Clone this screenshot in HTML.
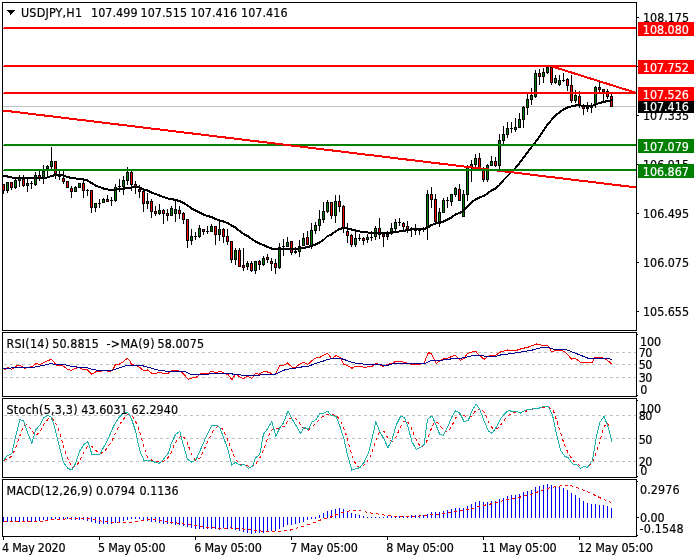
<!DOCTYPE html>
<html lang="en"><head><meta charset="utf-8"><title>USDJPY,H1</title>
<style>html,body{margin:0;padding:0;background:#fff;}svg{display:block;}text{font-family:"DejaVu Sans Condensed", "Liberation Sans", sans-serif;font-size:12.4px;fill:#000;stroke:#000;stroke-width:0.18px;}.w{fill:#fff;stroke:#fff;}</style></head><body>
<svg width="700" height="560" viewBox="0 0 700 560">
<rect x="0" y="0" width="700" height="560" fill="#fff"/>
<g shape-rendering="crispEdges">
<rect x="3" y="106" width="633" height="1" fill="#c0c0c0"/>
<g id="candles">
<rect x="3" y="184" width="1" height="10" fill="#000"/>
<rect x="2" y="184" width="3" height="7" fill="#000"/>
<rect x="3" y="185" width="1" height="5" fill="#ff0000"/>
<rect x="7" y="182" width="1" height="11" fill="#000"/>
<rect x="6" y="182" width="3" height="9" fill="#000"/>
<rect x="7" y="183" width="1" height="7" fill="#008000"/>
<rect x="11" y="182" width="1" height="8" fill="#000"/>
<rect x="10" y="182" width="3" height="6" fill="#000"/>
<rect x="11" y="183" width="1" height="4" fill="#ff0000"/>
<rect x="15" y="179" width="1" height="10" fill="#000"/>
<rect x="14" y="180" width="3" height="8" fill="#000"/>
<rect x="15" y="181" width="1" height="6" fill="#008000"/>
<rect x="19" y="175" width="1" height="12" fill="#000"/>
<rect x="18" y="178" width="3" height="3" fill="#000"/>
<rect x="19" y="179" width="1" height="1" fill="#008000"/>
<rect x="23" y="175" width="1" height="12" fill="#000"/>
<rect x="22" y="179" width="3" height="7" fill="#000"/>
<rect x="23" y="180" width="1" height="5" fill="#ff0000"/>
<rect x="27" y="179" width="1" height="13" fill="#000"/>
<rect x="26" y="183" width="3" height="3" fill="#000"/>
<rect x="27" y="184" width="1" height="1" fill="#008000"/>
<rect x="31" y="181" width="1" height="8" fill="#000"/>
<rect x="30" y="183" width="3" height="1" fill="#000"/>
<rect x="35" y="172" width="1" height="14" fill="#000"/>
<rect x="34" y="175" width="3" height="10" fill="#000"/>
<rect x="35" y="176" width="1" height="8" fill="#008000"/>
<rect x="39" y="171" width="1" height="10" fill="#000"/>
<rect x="38" y="175" width="3" height="3" fill="#000"/>
<rect x="39" y="176" width="1" height="1" fill="#ff0000"/>
<rect x="43" y="165" width="1" height="19" fill="#000"/>
<rect x="42" y="171" width="3" height="7" fill="#000"/>
<rect x="43" y="172" width="1" height="5" fill="#008000"/>
<rect x="47" y="165" width="1" height="11" fill="#000"/>
<rect x="46" y="166" width="3" height="3" fill="#000"/>
<rect x="47" y="167" width="1" height="1" fill="#008000"/>
<rect x="51" y="147" width="1" height="22" fill="#000"/>
<rect x="50" y="161" width="3" height="6" fill="#000"/>
<rect x="51" y="162" width="1" height="4" fill="#008000"/>
<rect x="55" y="161" width="1" height="18" fill="#000"/>
<rect x="54" y="161" width="3" height="13" fill="#000"/>
<rect x="55" y="162" width="1" height="11" fill="#ff0000"/>
<rect x="59" y="171" width="1" height="9" fill="#000"/>
<rect x="58" y="176" width="3" height="1" fill="#000"/>
<rect x="63" y="171" width="1" height="13" fill="#000"/>
<rect x="62" y="178" width="3" height="4" fill="#000"/>
<rect x="63" y="179" width="1" height="2" fill="#ff0000"/>
<rect x="67" y="181" width="1" height="7" fill="#000"/>
<rect x="66" y="181" width="3" height="7" fill="#000"/>
<rect x="67" y="182" width="1" height="5" fill="#ff0000"/>
<rect x="71" y="186" width="1" height="12" fill="#000"/>
<rect x="70" y="188" width="3" height="4" fill="#000"/>
<rect x="71" y="189" width="1" height="2" fill="#ff0000"/>
<rect x="75" y="186" width="1" height="6" fill="#000"/>
<rect x="74" y="187" width="3" height="5" fill="#000"/>
<rect x="75" y="188" width="1" height="3" fill="#008000"/>
<rect x="79" y="183" width="1" height="5" fill="#000"/>
<rect x="78" y="183" width="3" height="5" fill="#000"/>
<rect x="79" y="184" width="1" height="3" fill="#008000"/>
<rect x="83" y="181" width="1" height="17" fill="#000"/>
<rect x="82" y="183" width="3" height="8" fill="#000"/>
<rect x="83" y="184" width="1" height="6" fill="#ff0000"/>
<rect x="87" y="189" width="1" height="7" fill="#000"/>
<rect x="86" y="190" width="3" height="1" fill="#000"/>
<rect x="91" y="190" width="1" height="23" fill="#000"/>
<rect x="90" y="190" width="3" height="18" fill="#000"/>
<rect x="91" y="191" width="1" height="16" fill="#ff0000"/>
<rect x="95" y="203" width="1" height="9" fill="#000"/>
<rect x="94" y="203" width="3" height="5" fill="#000"/>
<rect x="95" y="204" width="1" height="3" fill="#008000"/>
<rect x="99" y="199" width="1" height="9" fill="#000"/>
<rect x="98" y="203" width="3" height="1" fill="#000"/>
<rect x="103" y="198" width="1" height="5" fill="#000"/>
<rect x="102" y="199" width="3" height="4" fill="#000"/>
<rect x="103" y="200" width="1" height="2" fill="#008000"/>
<rect x="107" y="195" width="1" height="7" fill="#000"/>
<rect x="106" y="199" width="3" height="3" fill="#000"/>
<rect x="107" y="200" width="1" height="1" fill="#ff0000"/>
<rect x="111" y="197" width="1" height="9" fill="#000"/>
<rect x="110" y="200" width="3" height="1" fill="#000"/>
<rect x="115" y="184" width="1" height="18" fill="#000"/>
<rect x="114" y="187" width="3" height="14" fill="#000"/>
<rect x="115" y="188" width="1" height="12" fill="#008000"/>
<rect x="119" y="179" width="1" height="13" fill="#000"/>
<rect x="118" y="186" width="3" height="1" fill="#000"/>
<rect x="123" y="176" width="1" height="19" fill="#000"/>
<rect x="122" y="180" width="3" height="7" fill="#000"/>
<rect x="123" y="181" width="1" height="5" fill="#008000"/>
<rect x="127" y="167" width="1" height="18" fill="#000"/>
<rect x="126" y="172" width="3" height="9" fill="#000"/>
<rect x="127" y="173" width="1" height="7" fill="#008000"/>
<rect x="131" y="171" width="1" height="20" fill="#000"/>
<rect x="130" y="172" width="3" height="13" fill="#000"/>
<rect x="131" y="173" width="1" height="11" fill="#ff0000"/>
<rect x="135" y="181" width="1" height="13" fill="#000"/>
<rect x="134" y="184" width="3" height="3" fill="#000"/>
<rect x="135" y="185" width="1" height="1" fill="#ff0000"/>
<rect x="139" y="185" width="1" height="13" fill="#000"/>
<rect x="138" y="189" width="3" height="3" fill="#000"/>
<rect x="139" y="190" width="1" height="1" fill="#ff0000"/>
<rect x="143" y="191" width="1" height="21" fill="#000"/>
<rect x="142" y="191" width="3" height="13" fill="#000"/>
<rect x="143" y="192" width="1" height="11" fill="#ff0000"/>
<rect x="147" y="193" width="1" height="16" fill="#000"/>
<rect x="146" y="201" width="3" height="3" fill="#000"/>
<rect x="147" y="202" width="1" height="1" fill="#008000"/>
<rect x="151" y="199" width="1" height="19" fill="#000"/>
<rect x="150" y="201" width="3" height="11" fill="#000"/>
<rect x="151" y="202" width="1" height="9" fill="#ff0000"/>
<rect x="155" y="206" width="1" height="10" fill="#000"/>
<rect x="154" y="211" width="3" height="3" fill="#000"/>
<rect x="155" y="212" width="1" height="1" fill="#ff0000"/>
<rect x="159" y="204" width="1" height="11" fill="#000"/>
<rect x="158" y="210" width="3" height="4" fill="#000"/>
<rect x="159" y="211" width="1" height="2" fill="#008000"/>
<rect x="163" y="209" width="1" height="15" fill="#000"/>
<rect x="162" y="210" width="3" height="4" fill="#000"/>
<rect x="163" y="211" width="1" height="2" fill="#ff0000"/>
<rect x="167" y="209" width="1" height="12" fill="#000"/>
<rect x="166" y="213" width="3" height="3" fill="#000"/>
<rect x="167" y="214" width="1" height="1" fill="#ff0000"/>
<rect x="171" y="206" width="1" height="10" fill="#000"/>
<rect x="170" y="208" width="3" height="8" fill="#000"/>
<rect x="171" y="209" width="1" height="6" fill="#008000"/>
<rect x="175" y="201" width="1" height="21" fill="#000"/>
<rect x="174" y="209" width="3" height="5" fill="#000"/>
<rect x="175" y="210" width="1" height="3" fill="#008000"/>
<rect x="179" y="206" width="1" height="13" fill="#000"/>
<rect x="178" y="210" width="3" height="4" fill="#000"/>
<rect x="179" y="211" width="1" height="2" fill="#ff0000"/>
<rect x="183" y="212" width="1" height="12" fill="#000"/>
<rect x="182" y="213" width="3" height="7" fill="#000"/>
<rect x="183" y="214" width="1" height="5" fill="#ff0000"/>
<rect x="187" y="219" width="1" height="29" fill="#000"/>
<rect x="186" y="219" width="3" height="22" fill="#000"/>
<rect x="187" y="220" width="1" height="20" fill="#ff0000"/>
<rect x="191" y="229" width="1" height="16" fill="#000"/>
<rect x="190" y="236" width="3" height="5" fill="#000"/>
<rect x="191" y="237" width="1" height="3" fill="#008000"/>
<rect x="195" y="232" width="1" height="8" fill="#000"/>
<rect x="194" y="236" width="3" height="1" fill="#000"/>
<rect x="199" y="225" width="1" height="13" fill="#000"/>
<rect x="198" y="228" width="3" height="9" fill="#000"/>
<rect x="199" y="229" width="1" height="7" fill="#008000"/>
<rect x="203" y="229" width="1" height="6" fill="#000"/>
<rect x="202" y="229" width="3" height="3" fill="#000"/>
<rect x="203" y="230" width="1" height="1" fill="#ff0000"/>
<rect x="207" y="226" width="1" height="8" fill="#000"/>
<rect x="206" y="231" width="3" height="1" fill="#000"/>
<rect x="211" y="224" width="1" height="8" fill="#000"/>
<rect x="210" y="226" width="3" height="6" fill="#000"/>
<rect x="211" y="227" width="1" height="4" fill="#008000"/>
<rect x="215" y="226" width="1" height="19" fill="#000"/>
<rect x="214" y="226" width="3" height="9" fill="#000"/>
<rect x="215" y="227" width="1" height="7" fill="#ff0000"/>
<rect x="219" y="221" width="1" height="20" fill="#000"/>
<rect x="218" y="229" width="3" height="6" fill="#000"/>
<rect x="219" y="230" width="1" height="4" fill="#008000"/>
<rect x="223" y="228" width="1" height="15" fill="#000"/>
<rect x="222" y="229" width="3" height="8" fill="#000"/>
<rect x="223" y="230" width="1" height="6" fill="#ff0000"/>
<rect x="227" y="229" width="1" height="16" fill="#000"/>
<rect x="226" y="236" width="3" height="6" fill="#000"/>
<rect x="227" y="237" width="1" height="4" fill="#ff0000"/>
<rect x="231" y="241" width="1" height="22" fill="#000"/>
<rect x="230" y="241" width="3" height="19" fill="#000"/>
<rect x="231" y="242" width="1" height="17" fill="#ff0000"/>
<rect x="235" y="248" width="1" height="17" fill="#000"/>
<rect x="234" y="250" width="3" height="10" fill="#000"/>
<rect x="235" y="251" width="1" height="8" fill="#008000"/>
<rect x="239" y="248" width="1" height="19" fill="#000"/>
<rect x="238" y="250" width="3" height="17" fill="#000"/>
<rect x="239" y="251" width="1" height="15" fill="#ff0000"/>
<rect x="243" y="248" width="1" height="23" fill="#000"/>
<rect x="242" y="265" width="3" height="3" fill="#000"/>
<rect x="243" y="266" width="1" height="1" fill="#ff0000"/>
<rect x="247" y="261" width="1" height="9" fill="#000"/>
<rect x="246" y="263" width="3" height="4" fill="#000"/>
<rect x="247" y="264" width="1" height="2" fill="#008000"/>
<rect x="251" y="261" width="1" height="11" fill="#000"/>
<rect x="250" y="263" width="3" height="8" fill="#000"/>
<rect x="251" y="264" width="1" height="6" fill="#ff0000"/>
<rect x="255" y="261" width="1" height="13" fill="#000"/>
<rect x="254" y="261" width="3" height="10" fill="#000"/>
<rect x="255" y="262" width="1" height="8" fill="#008000"/>
<rect x="259" y="260" width="1" height="10" fill="#000"/>
<rect x="258" y="261" width="3" height="4" fill="#000"/>
<rect x="259" y="262" width="1" height="2" fill="#ff0000"/>
<rect x="263" y="256" width="1" height="10" fill="#000"/>
<rect x="262" y="258" width="3" height="7" fill="#000"/>
<rect x="263" y="259" width="1" height="5" fill="#008000"/>
<rect x="267" y="254" width="1" height="9" fill="#000"/>
<rect x="266" y="257" width="3" height="3" fill="#000"/>
<rect x="267" y="258" width="1" height="1" fill="#ff0000"/>
<rect x="271" y="258" width="1" height="13" fill="#000"/>
<rect x="270" y="261" width="3" height="3" fill="#000"/>
<rect x="271" y="262" width="1" height="1" fill="#ff0000"/>
<rect x="275" y="259" width="1" height="15" fill="#000"/>
<rect x="274" y="263" width="3" height="5" fill="#000"/>
<rect x="275" y="264" width="1" height="3" fill="#ff0000"/>
<rect x="279" y="243" width="1" height="26" fill="#000"/>
<rect x="278" y="247" width="3" height="21" fill="#000"/>
<rect x="279" y="248" width="1" height="19" fill="#008000"/>
<rect x="283" y="239" width="1" height="17" fill="#000"/>
<rect x="282" y="246" width="3" height="1" fill="#000"/>
<rect x="287" y="237" width="1" height="10" fill="#000"/>
<rect x="286" y="242" width="3" height="5" fill="#000"/>
<rect x="287" y="243" width="1" height="3" fill="#008000"/>
<rect x="291" y="241" width="1" height="14" fill="#000"/>
<rect x="290" y="241" width="3" height="12" fill="#000"/>
<rect x="291" y="242" width="1" height="10" fill="#ff0000"/>
<rect x="295" y="247" width="1" height="7" fill="#000"/>
<rect x="294" y="251" width="3" height="2" fill="#000"/>
<rect x="299" y="240" width="1" height="17" fill="#000"/>
<rect x="298" y="246" width="3" height="6" fill="#000"/>
<rect x="299" y="247" width="1" height="4" fill="#008000"/>
<rect x="303" y="233" width="1" height="13" fill="#000"/>
<rect x="302" y="238" width="3" height="8" fill="#000"/>
<rect x="303" y="239" width="1" height="6" fill="#008000"/>
<rect x="307" y="231" width="1" height="14" fill="#000"/>
<rect x="306" y="237" width="3" height="8" fill="#000"/>
<rect x="307" y="238" width="1" height="6" fill="#ff0000"/>
<rect x="311" y="223" width="1" height="26" fill="#000"/>
<rect x="310" y="230" width="3" height="16" fill="#000"/>
<rect x="311" y="231" width="1" height="14" fill="#008000"/>
<rect x="315" y="222" width="1" height="12" fill="#000"/>
<rect x="314" y="225" width="3" height="6" fill="#000"/>
<rect x="315" y="226" width="1" height="4" fill="#008000"/>
<rect x="319" y="210" width="1" height="21" fill="#000"/>
<rect x="318" y="219" width="3" height="7" fill="#000"/>
<rect x="319" y="220" width="1" height="5" fill="#008000"/>
<rect x="323" y="202" width="1" height="21" fill="#000"/>
<rect x="322" y="211" width="3" height="9" fill="#000"/>
<rect x="323" y="212" width="1" height="7" fill="#008000"/>
<rect x="327" y="200" width="1" height="13" fill="#000"/>
<rect x="326" y="202" width="3" height="10" fill="#000"/>
<rect x="327" y="203" width="1" height="8" fill="#008000"/>
<rect x="331" y="202" width="1" height="17" fill="#000"/>
<rect x="330" y="202" width="3" height="14" fill="#000"/>
<rect x="331" y="203" width="1" height="12" fill="#ff0000"/>
<rect x="335" y="195" width="1" height="28" fill="#000"/>
<rect x="334" y="201" width="3" height="15" fill="#000"/>
<rect x="335" y="202" width="1" height="13" fill="#008000"/>
<rect x="339" y="195" width="1" height="17" fill="#000"/>
<rect x="338" y="201" width="3" height="6" fill="#000"/>
<rect x="339" y="202" width="1" height="4" fill="#ff0000"/>
<rect x="343" y="205" width="1" height="28" fill="#000"/>
<rect x="342" y="206" width="3" height="22" fill="#000"/>
<rect x="343" y="207" width="1" height="20" fill="#ff0000"/>
<rect x="347" y="223" width="1" height="20" fill="#000"/>
<rect x="346" y="231" width="3" height="5" fill="#000"/>
<rect x="347" y="232" width="1" height="3" fill="#ff0000"/>
<rect x="351" y="234" width="1" height="13" fill="#000"/>
<rect x="350" y="235" width="3" height="10" fill="#000"/>
<rect x="351" y="236" width="1" height="8" fill="#ff0000"/>
<rect x="355" y="232" width="1" height="15" fill="#000"/>
<rect x="354" y="238" width="3" height="7" fill="#000"/>
<rect x="355" y="239" width="1" height="5" fill="#008000"/>
<rect x="359" y="234" width="1" height="7" fill="#000"/>
<rect x="358" y="238" width="3" height="1" fill="#000"/>
<rect x="363" y="237" width="1" height="8" fill="#000"/>
<rect x="362" y="238" width="3" height="3" fill="#000"/>
<rect x="363" y="239" width="1" height="1" fill="#ff0000"/>
<rect x="367" y="234" width="1" height="9" fill="#000"/>
<rect x="366" y="237" width="3" height="3" fill="#000"/>
<rect x="367" y="238" width="1" height="1" fill="#008000"/>
<rect x="371" y="231" width="1" height="10" fill="#000"/>
<rect x="370" y="237" width="3" height="1" fill="#000"/>
<rect x="375" y="226" width="1" height="14" fill="#000"/>
<rect x="374" y="228" width="3" height="9" fill="#000"/>
<rect x="375" y="229" width="1" height="7" fill="#008000"/>
<rect x="379" y="218" width="1" height="21" fill="#000"/>
<rect x="378" y="228" width="3" height="7" fill="#000"/>
<rect x="379" y="229" width="1" height="5" fill="#ff0000"/>
<rect x="383" y="234" width="1" height="13" fill="#000"/>
<rect x="382" y="234" width="3" height="3" fill="#000"/>
<rect x="383" y="235" width="1" height="1" fill="#ff0000"/>
<rect x="387" y="231" width="1" height="9" fill="#000"/>
<rect x="386" y="234" width="3" height="3" fill="#000"/>
<rect x="387" y="235" width="1" height="1" fill="#008000"/>
<rect x="391" y="223" width="1" height="12" fill="#000"/>
<rect x="390" y="228" width="3" height="6" fill="#000"/>
<rect x="391" y="229" width="1" height="4" fill="#008000"/>
<rect x="395" y="219" width="1" height="13" fill="#000"/>
<rect x="394" y="222" width="3" height="7" fill="#000"/>
<rect x="395" y="223" width="1" height="5" fill="#008000"/>
<rect x="399" y="218" width="1" height="8" fill="#000"/>
<rect x="398" y="222" width="3" height="1" fill="#000"/>
<rect x="403" y="222" width="1" height="9" fill="#000"/>
<rect x="402" y="223" width="3" height="4" fill="#000"/>
<rect x="403" y="224" width="1" height="2" fill="#ff0000"/>
<rect x="407" y="221" width="1" height="12" fill="#000"/>
<rect x="406" y="226" width="3" height="3" fill="#000"/>
<rect x="407" y="227" width="1" height="1" fill="#ff0000"/>
<rect x="411" y="227" width="1" height="10" fill="#000"/>
<rect x="410" y="228" width="3" height="2" fill="#000"/>
<rect x="415" y="224" width="1" height="11" fill="#000"/>
<rect x="414" y="230" width="3" height="1" fill="#000"/>
<rect x="419" y="230" width="1" height="5" fill="#000"/>
<rect x="418" y="230" width="3" height="1" fill="#000"/>
<rect x="423" y="227" width="1" height="5" fill="#000"/>
<rect x="422" y="229" width="3" height="1" fill="#000"/>
<rect x="427" y="190" width="1" height="50" fill="#000"/>
<rect x="426" y="194" width="3" height="33" fill="#000"/>
<rect x="427" y="195" width="1" height="31" fill="#008000"/>
<rect x="431" y="187" width="1" height="21" fill="#000"/>
<rect x="430" y="194" width="3" height="6" fill="#000"/>
<rect x="431" y="195" width="1" height="4" fill="#ff0000"/>
<rect x="435" y="194" width="1" height="29" fill="#000"/>
<rect x="434" y="199" width="3" height="23" fill="#000"/>
<rect x="435" y="200" width="1" height="21" fill="#ff0000"/>
<rect x="439" y="208" width="1" height="19" fill="#000"/>
<rect x="438" y="212" width="3" height="10" fill="#000"/>
<rect x="439" y="213" width="1" height="8" fill="#008000"/>
<rect x="443" y="198" width="1" height="15" fill="#000"/>
<rect x="442" y="200" width="3" height="13" fill="#000"/>
<rect x="443" y="201" width="1" height="11" fill="#008000"/>
<rect x="447" y="197" width="1" height="11" fill="#000"/>
<rect x="446" y="200" width="3" height="1" fill="#000"/>
<rect x="451" y="194" width="1" height="12" fill="#000"/>
<rect x="450" y="194" width="3" height="8" fill="#000"/>
<rect x="451" y="195" width="1" height="6" fill="#008000"/>
<rect x="455" y="187" width="1" height="10" fill="#000"/>
<rect x="454" y="188" width="3" height="7" fill="#000"/>
<rect x="455" y="189" width="1" height="5" fill="#008000"/>
<rect x="459" y="184" width="1" height="17" fill="#000"/>
<rect x="458" y="189" width="3" height="12" fill="#000"/>
<rect x="459" y="190" width="1" height="10" fill="#ff0000"/>
<rect x="463" y="190" width="1" height="27" fill="#000"/>
<rect x="462" y="194" width="3" height="23" fill="#000"/>
<rect x="463" y="195" width="1" height="21" fill="#008000"/>
<rect x="467" y="165" width="1" height="36" fill="#000"/>
<rect x="466" y="166" width="3" height="29" fill="#000"/>
<rect x="467" y="167" width="1" height="27" fill="#008000"/>
<rect x="471" y="160" width="1" height="22" fill="#000"/>
<rect x="470" y="164" width="3" height="3" fill="#000"/>
<rect x="471" y="165" width="1" height="1" fill="#008000"/>
<rect x="475" y="154" width="1" height="13" fill="#000"/>
<rect x="474" y="158" width="3" height="7" fill="#000"/>
<rect x="475" y="159" width="1" height="5" fill="#008000"/>
<rect x="479" y="153" width="1" height="15" fill="#000"/>
<rect x="478" y="158" width="3" height="10" fill="#000"/>
<rect x="479" y="159" width="1" height="8" fill="#ff0000"/>
<rect x="483" y="167" width="1" height="15" fill="#000"/>
<rect x="482" y="168" width="3" height="12" fill="#000"/>
<rect x="483" y="169" width="1" height="10" fill="#ff0000"/>
<rect x="487" y="164" width="1" height="18" fill="#000"/>
<rect x="486" y="165" width="3" height="15" fill="#000"/>
<rect x="487" y="166" width="1" height="13" fill="#008000"/>
<rect x="491" y="156" width="1" height="10" fill="#000"/>
<rect x="490" y="161" width="3" height="5" fill="#000"/>
<rect x="491" y="162" width="1" height="3" fill="#008000"/>
<rect x="495" y="157" width="1" height="10" fill="#000"/>
<rect x="494" y="161" width="3" height="5" fill="#000"/>
<rect x="495" y="162" width="1" height="3" fill="#ff0000"/>
<rect x="499" y="134" width="1" height="35" fill="#000"/>
<rect x="498" y="140" width="3" height="26" fill="#000"/>
<rect x="499" y="141" width="1" height="24" fill="#008000"/>
<rect x="503" y="126" width="1" height="18" fill="#000"/>
<rect x="502" y="134" width="3" height="7" fill="#000"/>
<rect x="503" y="135" width="1" height="5" fill="#008000"/>
<rect x="507" y="122" width="1" height="16" fill="#000"/>
<rect x="506" y="128" width="3" height="7" fill="#000"/>
<rect x="507" y="129" width="1" height="5" fill="#008000"/>
<rect x="511" y="122" width="1" height="11" fill="#000"/>
<rect x="510" y="128" width="3" height="1" fill="#000"/>
<rect x="515" y="118" width="1" height="14" fill="#000"/>
<rect x="514" y="127" width="3" height="3" fill="#000"/>
<rect x="515" y="128" width="1" height="1" fill="#008000"/>
<rect x="519" y="113" width="1" height="15" fill="#000"/>
<rect x="518" y="119" width="3" height="9" fill="#000"/>
<rect x="519" y="120" width="1" height="7" fill="#008000"/>
<rect x="523" y="106" width="1" height="22" fill="#000"/>
<rect x="522" y="107" width="3" height="13" fill="#000"/>
<rect x="523" y="108" width="1" height="11" fill="#008000"/>
<rect x="527" y="94" width="1" height="21" fill="#000"/>
<rect x="526" y="99" width="3" height="9" fill="#000"/>
<rect x="527" y="100" width="1" height="7" fill="#008000"/>
<rect x="531" y="88" width="1" height="17" fill="#000"/>
<rect x="530" y="95" width="3" height="5" fill="#000"/>
<rect x="531" y="96" width="1" height="3" fill="#008000"/>
<rect x="535" y="70" width="1" height="28" fill="#000"/>
<rect x="534" y="73" width="3" height="24" fill="#000"/>
<rect x="535" y="74" width="1" height="22" fill="#008000"/>
<rect x="539" y="69" width="1" height="16" fill="#000"/>
<rect x="538" y="73" width="3" height="4" fill="#000"/>
<rect x="539" y="74" width="1" height="2" fill="#ff0000"/>
<rect x="543" y="68" width="1" height="15" fill="#000"/>
<rect x="542" y="72" width="3" height="5" fill="#000"/>
<rect x="543" y="73" width="1" height="3" fill="#008000"/>
<rect x="547" y="65" width="1" height="9" fill="#000"/>
<rect x="546" y="67" width="3" height="6" fill="#000"/>
<rect x="547" y="68" width="1" height="4" fill="#008000"/>
<rect x="551" y="66" width="1" height="19" fill="#000"/>
<rect x="550" y="67" width="3" height="16" fill="#000"/>
<rect x="551" y="68" width="1" height="14" fill="#ff0000"/>
<rect x="555" y="75" width="1" height="9" fill="#000"/>
<rect x="554" y="78" width="3" height="5" fill="#000"/>
<rect x="555" y="79" width="1" height="3" fill="#008000"/>
<rect x="559" y="75" width="1" height="11" fill="#000"/>
<rect x="558" y="80" width="3" height="5" fill="#000"/>
<rect x="559" y="81" width="1" height="3" fill="#008000"/>
<rect x="563" y="73" width="1" height="9" fill="#000"/>
<rect x="562" y="80" width="3" height="1" fill="#000"/>
<rect x="567" y="78" width="1" height="13" fill="#000"/>
<rect x="566" y="79" width="3" height="7" fill="#000"/>
<rect x="567" y="80" width="1" height="5" fill="#ff0000"/>
<rect x="571" y="75" width="1" height="28" fill="#000"/>
<rect x="570" y="85" width="3" height="16" fill="#000"/>
<rect x="571" y="86" width="1" height="14" fill="#ff0000"/>
<rect x="575" y="90" width="1" height="13" fill="#000"/>
<rect x="574" y="95" width="3" height="6" fill="#000"/>
<rect x="575" y="96" width="1" height="4" fill="#008000"/>
<rect x="579" y="91" width="1" height="17" fill="#000"/>
<rect x="578" y="96" width="3" height="9" fill="#000"/>
<rect x="579" y="97" width="1" height="7" fill="#ff0000"/>
<rect x="583" y="104" width="1" height="11" fill="#000"/>
<rect x="582" y="106" width="3" height="3" fill="#000"/>
<rect x="583" y="107" width="1" height="1" fill="#ff0000"/>
<rect x="587" y="102" width="1" height="10" fill="#000"/>
<rect x="586" y="106" width="3" height="3" fill="#000"/>
<rect x="591" y="103" width="1" height="10" fill="#000"/>
<rect x="590" y="105" width="3" height="3" fill="#000"/>
<rect x="595" y="86" width="1" height="22" fill="#000"/>
<rect x="594" y="87" width="3" height="18" fill="#000"/>
<rect x="595" y="88" width="1" height="16" fill="#008000"/>
<rect x="599" y="82" width="1" height="10" fill="#000"/>
<rect x="598" y="87" width="3" height="3" fill="#000"/>
<rect x="599" y="88" width="1" height="1" fill="#ff0000"/>
<rect x="603" y="89" width="1" height="13" fill="#000"/>
<rect x="602" y="89" width="3" height="3" fill="#000"/>
<rect x="603" y="90" width="1" height="1" fill="#ff0000"/>
<rect x="607" y="89" width="1" height="10" fill="#000"/>
<rect x="606" y="91" width="3" height="6" fill="#000"/>
<rect x="607" y="92" width="1" height="4" fill="#ff0000"/>
<rect x="611" y="94" width="1" height="13" fill="#000"/>
<rect x="610" y="96" width="3" height="11" fill="#000"/>
<rect x="611" y="97" width="1" height="9" fill="#ff0000"/>
</g>
<path d="M3 175h1v2h-1zM4 175h1v2h-1zM5 175h1v2h-1zM6 175h1v2h-1zM7 175h1v3h-1zM8 176h1v2h-1zM9 176h1v2h-1zM10 176h1v2h-1zM11 176h1v2h-1zM12 177h1v2h-1zM13 177h1v2h-1zM14 177h1v2h-1zM15 177h1v2h-1zM16 177h1v2h-1zM17 177h1v2h-1zM18 177h1v2h-1zM19 177h1v2h-1zM20 177h1v2h-1zM21 177h1v2h-1zM22 177h1v2h-1zM23 177h1v2h-1zM24 177h1v2h-1zM25 177h1v2h-1zM26 177h1v2h-1zM27 177h1v2h-1zM28 177h1v2h-1zM29 177h1v2h-1zM30 177h1v2h-1zM31 177h1v2h-1zM32 177h1v2h-1zM33 177h1v2h-1zM34 177h1v2h-1zM35 177h1v2h-1zM36 177h1v2h-1zM37 177h1v2h-1zM38 177h1v2h-1zM39 177h1v2h-1zM40 177h1v2h-1zM41 177h1v2h-1zM42 177h1v2h-1zM43 177h1v2h-1zM44 177h1v2h-1zM45 177h1v2h-1zM46 177h1v2h-1zM47 176h1v2h-1zM48 176h1v2h-1zM49 176h1v2h-1zM50 175h1v2h-1zM51 175h1v2h-1zM52 175h1v2h-1zM53 174h1v3h-1zM54 174h1v2h-1zM55 174h1v2h-1zM56 174h1v2h-1zM57 174h1v2h-1zM58 174h1v2h-1zM59 174h1v2h-1zM60 174h1v2h-1zM61 174h1v2h-1zM62 174h1v2h-1zM63 174h1v3h-1zM64 175h1v2h-1zM65 175h1v2h-1zM66 176h1v2h-1zM67 176h1v2h-1zM68 176h1v2h-1zM69 176h1v3h-1zM70 177h1v2h-1zM71 177h1v2h-1zM72 177h1v2h-1zM73 177h1v2h-1zM74 177h1v2h-1zM75 177h1v2h-1zM76 178h1v2h-1zM77 178h1v2h-1zM78 178h1v2h-1zM79 178h1v2h-1zM80 178h1v2h-1zM81 178h1v2h-1zM82 178h1v2h-1zM83 178h1v3h-1zM84 179h1v2h-1zM85 179h1v2h-1zM86 179h1v2h-1zM87 179h1v3h-1zM88 180h1v2h-1zM89 181h1v2h-1zM90 181h1v3h-1zM91 182h1v2h-1zM92 182h1v3h-1zM93 183h1v2h-1zM94 184h1v2h-1zM95 184h1v3h-1zM96 185h1v2h-1zM97 185h1v2h-1zM98 186h1v2h-1zM99 186h1v2h-1zM100 186h1v2h-1zM101 187h1v2h-1zM102 187h1v2h-1zM103 187h1v3h-1zM104 188h1v2h-1zM105 188h1v2h-1zM106 188h1v2h-1zM107 188h1v2h-1zM108 189h1v2h-1zM109 189h1v2h-1zM110 189h1v2h-1zM111 189h1v2h-1zM112 189h1v2h-1zM113 189h1v2h-1zM114 189h1v2h-1zM115 189h1v2h-1zM116 189h1v2h-1zM117 188h1v2h-1zM118 188h1v2h-1zM119 188h1v2h-1zM120 188h1v2h-1zM121 188h1v2h-1zM122 188h1v2h-1zM123 188h1v2h-1zM124 187h1v3h-1zM125 187h1v2h-1zM126 187h1v2h-1zM127 187h1v2h-1zM128 187h1v2h-1zM129 187h1v2h-1zM130 187h1v2h-1zM131 186h1v2h-1zM132 186h1v2h-1zM133 186h1v2h-1zM134 186h1v2h-1zM135 186h1v2h-1zM136 186h1v2h-1zM137 186h1v2h-1zM138 186h1v2h-1zM139 186h1v3h-1zM140 187h1v2h-1zM141 187h1v3h-1zM142 188h1v2h-1zM143 188h1v3h-1zM144 189h1v2h-1zM145 189h1v2h-1zM146 189h1v2h-1zM147 189h1v3h-1zM148 190h1v2h-1zM149 190h1v3h-1zM150 191h1v2h-1zM151 191h1v3h-1zM152 192h1v2h-1zM153 192h1v2h-1zM154 193h1v2h-1zM155 193h1v2h-1zM156 193h1v2h-1zM157 194h1v2h-1zM158 194h1v2h-1zM159 194h1v3h-1zM160 195h1v2h-1zM161 195h1v2h-1zM162 196h1v2h-1zM163 196h1v2h-1zM164 196h1v2h-1zM165 197h1v2h-1zM166 197h1v2h-1zM167 197h1v2h-1zM168 198h1v2h-1zM169 198h1v2h-1zM170 198h1v2h-1zM171 198h1v2h-1zM172 198h1v2h-1zM173 198h1v3h-1zM174 199h1v2h-1zM175 199h1v2h-1zM176 199h1v2h-1zM177 199h1v3h-1zM178 200h1v2h-1zM179 200h1v2h-1zM180 200h1v3h-1zM181 201h1v2h-1zM182 201h1v3h-1zM183 202h1v2h-1zM184 202h1v3h-1zM185 203h1v2h-1zM186 204h1v2h-1zM187 204h1v3h-1zM188 205h1v2h-1zM189 206h1v2h-1zM190 206h1v3h-1zM191 207h1v3h-1zM192 208h1v2h-1zM193 208h1v3h-1zM194 209h1v2h-1zM195 209h1v3h-1zM196 210h1v2h-1zM197 210h1v3h-1zM198 211h1v2h-1zM199 211h1v3h-1zM200 212h1v2h-1zM201 212h1v3h-1zM202 213h1v2h-1zM203 213h1v3h-1zM204 214h1v2h-1zM205 214h1v2h-1zM206 215h1v2h-1zM207 215h1v2h-1zM208 215h1v2h-1zM209 215h1v3h-1zM210 216h1v2h-1zM211 216h1v2h-1zM212 216h1v3h-1zM213 217h1v2h-1zM214 217h1v3h-1zM215 218h1v2h-1zM216 218h1v2h-1zM217 219h1v2h-1zM218 219h1v2h-1zM219 219h1v3h-1zM220 220h1v2h-1zM221 220h1v2h-1zM222 220h1v2h-1zM223 220h1v3h-1zM224 221h1v2h-1zM225 221h1v2h-1zM226 222h1v2h-1zM227 222h1v2h-1zM228 222h1v3h-1zM229 223h1v2h-1zM230 224h1v2h-1zM231 224h1v3h-1zM232 225h1v2h-1zM233 225h1v3h-1zM234 226h1v2h-1zM235 226h1v3h-1zM236 227h1v3h-1zM237 228h1v3h-1zM238 229h1v2h-1zM239 230h1v2h-1zM240 230h1v3h-1zM241 231h1v3h-1zM242 232h1v2h-1zM243 233h1v2h-1zM244 233h1v3h-1zM245 234h1v2h-1zM246 234h1v3h-1zM247 235h1v2h-1zM248 235h1v3h-1zM249 236h1v3h-1zM250 237h1v2h-1zM251 238h1v2h-1zM252 238h1v3h-1zM253 239h1v2h-1zM254 240h1v2h-1zM255 240h1v3h-1zM256 241h1v2h-1zM257 241h1v3h-1zM258 242h1v2h-1zM259 242h1v3h-1zM260 243h1v2h-1zM261 243h1v2h-1zM262 244h1v2h-1zM263 244h1v2h-1zM264 244h1v3h-1zM265 245h1v2h-1zM266 245h1v3h-1zM267 246h1v2h-1zM268 246h1v2h-1zM269 247h1v2h-1zM270 247h1v2h-1zM271 247h1v3h-1zM272 248h1v2h-1zM273 248h1v2h-1zM274 248h1v2h-1zM275 248h1v2h-1zM276 248h1v2h-1zM277 248h1v2h-1zM278 248h1v2h-1zM279 248h1v2h-1zM280 248h1v2h-1zM281 248h1v2h-1zM282 248h1v2h-1zM283 248h1v2h-1zM284 248h1v2h-1zM285 248h1v2h-1zM286 248h1v2h-1zM287 248h1v2h-1zM288 248h1v2h-1zM289 248h1v2h-1zM290 248h1v2h-1zM291 248h1v2h-1zM292 248h1v2h-1zM293 248h1v2h-1zM294 248h1v2h-1zM295 248h1v2h-1zM296 248h1v2h-1zM297 248h1v2h-1zM298 248h1v2h-1zM299 247h1v2h-1zM300 247h1v2h-1zM301 247h1v2h-1zM302 247h1v2h-1zM303 247h1v2h-1zM304 247h1v2h-1zM305 246h1v3h-1zM306 246h1v2h-1zM307 246h1v2h-1zM308 246h1v2h-1zM309 245h1v3h-1zM310 245h1v2h-1zM311 245h1v2h-1zM312 245h1v2h-1zM313 244h1v2h-1zM314 244h1v2h-1zM315 243h1v3h-1zM316 243h1v2h-1zM317 242h1v3h-1zM318 242h1v2h-1zM319 241h1v3h-1zM320 241h1v2h-1zM321 240h1v2h-1zM322 239h1v3h-1zM323 239h1v2h-1zM324 238h1v2h-1zM325 237h1v2h-1zM326 236h1v2h-1zM327 235h1v2h-1zM328 235h1v2h-1zM329 234h1v2h-1zM330 234h1v2h-1zM331 233h1v3h-1zM332 232h1v3h-1zM333 232h1v2h-1zM334 231h1v2h-1zM335 230h1v3h-1zM336 230h1v2h-1zM337 229h1v2h-1zM338 228h1v3h-1zM339 228h1v2h-1zM340 228h1v2h-1zM341 227h1v3h-1zM342 227h1v2h-1zM343 227h1v2h-1zM344 227h1v2h-1zM345 227h1v2h-1zM346 227h1v2h-1zM347 227h1v3h-1zM348 228h1v2h-1zM349 228h1v2h-1zM350 228h1v2h-1zM351 228h1v3h-1zM352 229h1v2h-1zM353 229h1v2h-1zM354 229h1v2h-1zM355 229h1v3h-1zM356 230h1v2h-1zM357 230h1v2h-1zM358 230h1v2h-1zM359 230h1v2h-1zM360 231h1v2h-1zM361 231h1v2h-1zM362 231h1v2h-1zM363 231h1v2h-1zM364 231h1v2h-1zM365 231h1v2h-1zM366 231h1v2h-1zM367 231h1v2h-1zM368 232h1v2h-1zM369 232h1v2h-1zM370 232h1v2h-1zM371 232h1v2h-1zM372 232h1v2h-1zM373 232h1v2h-1zM374 232h1v2h-1zM375 232h1v2h-1zM376 232h1v2h-1zM377 232h1v2h-1zM378 232h1v2h-1zM379 232h1v2h-1zM380 232h1v2h-1zM381 232h1v2h-1zM382 232h1v2h-1zM383 232h1v2h-1zM384 232h1v2h-1zM385 232h1v2h-1zM386 232h1v2h-1zM387 232h1v2h-1zM388 232h1v2h-1zM389 232h1v2h-1zM390 232h1v2h-1zM391 231h1v2h-1zM392 231h1v2h-1zM393 231h1v2h-1zM394 231h1v2h-1zM395 231h1v2h-1zM396 231h1v2h-1zM397 231h1v2h-1zM398 231h1v2h-1zM399 230h1v2h-1zM400 230h1v2h-1zM401 230h1v2h-1zM402 230h1v2h-1zM403 230h1v2h-1zM404 230h1v2h-1zM405 229h1v3h-1zM406 229h1v2h-1zM407 229h1v2h-1zM408 229h1v2h-1zM409 229h1v2h-1zM410 229h1v2h-1zM411 228h1v2h-1zM412 228h1v2h-1zM413 228h1v2h-1zM414 228h1v2h-1zM415 228h1v2h-1zM416 228h1v2h-1zM417 228h1v2h-1zM418 228h1v2h-1zM419 228h1v2h-1zM420 228h1v2h-1zM421 228h1v2h-1zM422 228h1v2h-1zM423 228h1v2h-1zM424 228h1v2h-1zM425 227h1v3h-1zM426 227h1v2h-1zM427 227h1v2h-1zM428 226h1v2h-1zM429 225h1v3h-1zM430 224h1v3h-1zM431 224h1v2h-1zM432 224h1v2h-1zM433 223h1v2h-1zM434 223h1v2h-1zM435 222h1v3h-1zM436 222h1v2h-1zM437 222h1v2h-1zM438 222h1v2h-1zM439 222h1v2h-1zM440 222h1v2h-1zM441 221h1v2h-1zM442 221h1v2h-1zM443 220h1v3h-1zM444 220h1v2h-1zM445 219h1v3h-1zM446 219h1v2h-1zM447 218h1v3h-1zM448 218h1v2h-1zM449 217h1v3h-1zM450 217h1v2h-1zM451 216h1v3h-1zM452 215h1v3h-1zM453 215h1v2h-1zM454 214h1v2h-1zM455 213h1v3h-1zM456 213h1v2h-1zM457 213h1v2h-1zM458 212h1v2h-1zM459 212h1v2h-1zM460 211h1v3h-1zM461 211h1v2h-1zM462 210h1v2h-1zM463 209h1v3h-1zM464 208h1v3h-1zM465 207h1v3h-1zM466 206h1v3h-1zM467 205h1v3h-1zM468 204h1v3h-1zM469 203h1v3h-1zM470 202h1v3h-1zM471 201h1v3h-1zM472 200h1v3h-1zM473 200h1v2h-1zM474 199h1v2h-1zM475 198h1v3h-1zM476 198h1v2h-1zM477 197h1v3h-1zM478 197h1v2h-1zM479 196h1v3h-1zM480 196h1v2h-1zM481 196h1v2h-1zM482 195h1v2h-1zM483 195h1v2h-1zM484 194h1v3h-1zM485 194h1v2h-1zM486 193h1v2h-1zM487 192h1v3h-1zM488 191h1v3h-1zM489 191h1v2h-1zM490 190h1v2h-1zM491 189h1v3h-1zM492 189h1v2h-1zM493 188h1v3h-1zM494 188h1v2h-1zM495 187h1v3h-1zM496 186h1v3h-1zM497 185h1v3h-1zM498 185h1v2h-1zM499 183h1v3h-1zM500 182h1v3h-1zM501 181h1v3h-1zM502 180h1v3h-1zM503 179h1v3h-1zM504 178h1v2h-1zM505 177h1v2h-1zM506 176h1v2h-1zM507 175h1v2h-1zM508 174h1v2h-1zM509 173h1v2h-1zM510 172h1v2h-1zM511 171h1v2h-1zM512 170h1v2h-1zM513 169h1v2h-1zM514 168h1v2h-1zM515 166h1v3h-1zM516 165h1v3h-1zM517 164h1v3h-1zM518 163h1v3h-1zM519 161h1v4h-1zM520 160h1v3h-1zM521 159h1v3h-1zM522 157h1v4h-1zM523 156h1v3h-1zM524 155h1v3h-1zM525 153h1v4h-1zM526 152h1v3h-1zM527 151h1v3h-1zM528 149h1v4h-1zM529 148h1v3h-1zM530 147h1v3h-1zM531 145h1v4h-1zM532 144h1v3h-1zM533 143h1v3h-1zM534 142h1v3h-1zM535 140h1v4h-1zM536 139h1v3h-1zM537 138h1v3h-1zM538 136h1v4h-1zM539 135h1v3h-1zM540 133h1v4h-1zM541 132h1v3h-1zM542 130h1v4h-1zM543 129h1v3h-1zM544 127h1v4h-1zM545 126h1v3h-1zM546 124h1v4h-1zM547 123h1v3h-1zM548 122h1v3h-1zM549 121h1v3h-1zM550 120h1v3h-1zM551 118h1v3h-1zM552 117h1v3h-1zM553 116h1v3h-1zM554 115h1v3h-1zM555 114h1v3h-1zM556 113h1v3h-1zM557 113h1v2h-1zM558 112h1v2h-1zM559 111h1v3h-1zM560 110h1v3h-1zM561 110h1v2h-1zM562 109h1v2h-1zM563 108h1v3h-1zM564 108h1v2h-1zM565 107h1v3h-1zM566 107h1v2h-1zM567 106h1v3h-1zM568 106h1v2h-1zM569 106h1v2h-1zM570 106h1v2h-1zM571 105h1v2h-1zM572 105h1v2h-1zM573 105h1v2h-1zM574 105h1v2h-1zM575 104h1v3h-1zM576 104h1v2h-1zM577 104h1v2h-1zM578 104h1v2h-1zM579 104h1v2h-1zM580 104h1v2h-1zM581 105h1v2h-1zM582 105h1v2h-1zM583 105h1v2h-1zM584 105h1v2h-1zM585 105h1v2h-1zM586 105h1v2h-1zM587 105h1v2h-1zM588 105h1v2h-1zM589 105h1v2h-1zM590 105h1v2h-1zM591 105h1v2h-1zM592 105h1v2h-1zM593 104h1v2h-1zM594 104h1v2h-1zM595 103h1v3h-1zM596 103h1v2h-1zM597 103h1v2h-1zM598 102h1v2h-1zM599 102h1v2h-1zM600 102h1v2h-1zM601 101h1v3h-1zM602 101h1v2h-1zM603 101h1v2h-1zM604 101h1v2h-1zM605 100h1v3h-1zM606 100h1v2h-1zM607 100h1v2h-1zM608 100h1v2h-1zM609 100h1v2h-1zM610 100h1v2h-1zM611 99h1v2h-1z" fill="#000"/>
<rect x="4" y="27" width="632" height="1" fill="#ff0000"/>
<rect x="3" y="28" width="633" height="1" fill="#ff0000"/>
<rect x="4" y="65" width="632" height="1" fill="#ff0000"/>
<rect x="3" y="66" width="633" height="1" fill="#ff0000"/>
<rect x="4" y="92" width="632" height="1" fill="#ff0000"/>
<rect x="3" y="93" width="633" height="1" fill="#ff0000"/>
<rect x="4" y="144" width="632" height="1" fill="#008000"/>
<rect x="3" y="145" width="633" height="1" fill="#008000"/>
<line x1="3" y1="110.47" x2="636" y2="187.39" stroke="#ff0000" stroke-width="2"/>
<line x1="551" y1="66.1" x2="636" y2="92.8" stroke="#ff0000" stroke-width="2"/>
<rect x="4" y="169" width="632" height="1" fill="#008000"/>
<rect x="3" y="170" width="633" height="1" fill="#008000"/>
<line x1="4" y1="352.5" x2="636" y2="352.5" stroke="#c0c0c0" stroke-width="1" stroke-dasharray="3 3"/>
<line x1="4" y1="364.5" x2="636" y2="364.5" stroke="#c0c0c0" stroke-width="1" stroke-dasharray="3 3"/>
<line x1="4" y1="377.5" x2="636" y2="377.5" stroke="#c0c0c0" stroke-width="1" stroke-dasharray="3 3"/>
<line x1="4" y1="415.5" x2="636" y2="415.5" stroke="#c0c0c0" stroke-width="1" stroke-dasharray="3 3"/>
<line x1="4" y1="438.5" x2="636" y2="438.5" stroke="#c0c0c0" stroke-width="1" stroke-dasharray="3 3"/>
<line x1="4" y1="461.5" x2="636" y2="461.5" stroke="#c0c0c0" stroke-width="1" stroke-dasharray="3 3"/>
<polyline points="3.5,370.4 7.5,367.4 11.9,369.3 16.9,365.7 19.8,365.0 24.1,368.3 29.1,367.4 32.5,366.4 36.2,363.3 39.8,365.0 43.4,362.6 47.5,360.7 51.5,359.3 54.1,362.0 56.2,365.4 61.9,365.0 67.5,369.3 71.2,370.4 74.8,368.6 78.4,367.4 82.5,369.3 87.5,370.0 91.9,374.3 95.5,372.0 100.5,371.1 106.2,370.7 109.1,371.7 112.5,370.3 115.5,364.6 118.4,364.6 121.9,362.6 127.5,358.3 129.8,360.7 131.2,364.0 134.1,365.0 138.4,366.4 144.1,371.1 147.5,370.0 152.2,373.6 156.9,373.1 160.5,372.1 163.4,373.6 168.4,373.1 171.9,370.3 177.5,370.3 182.5,372.9 188.4,379.3 191.9,377.9 196.2,377.4 200.5,373.6 208.4,373.6 211.2,371.1 216.2,372.6 219.8,371.1 224.1,372.9 228.4,375.0 231.9,379.7 235.5,374.3 239.1,376.4 243.4,378.6 247.5,376.4 251.9,378.3 255.5,373.6 259.1,374.3 264.1,371.1 269.8,372.6 271.9,374.0 275.5,374.3 279.8,365.7 284.1,365.0 287.5,362.9 291.9,367.1 295.5,367.4 298.4,365.0 300.5,363.6 304.1,362.1 307.5,364.6 314.8,358.3 319.8,357.4 327.5,353.1 331.9,358.9 336.2,355.4 340.5,357.9 343.4,364.0 347.5,365.7 351.9,368.3 355.5,366.4 361.9,366.4 364.1,367.4 371.9,366.4 376.2,363.1 379.8,365.0 383.4,366.4 386.9,364.6 389.8,363.6 392.5,363.1 395.5,361.4 400.5,361.4 405.5,362.6 411.2,364.3 416.2,364.0 419.1,364.6 424.1,362.9 428.4,352.6 431.2,353.6 436.2,363.6 439.8,360.7 443.4,358.6 447.5,358.3 451.9,356.4 455.5,355.4 460.5,360.3 464.1,358.3 467.5,353.6 471.9,352.1 475.5,351.1 478.4,354.3 484.1,359.3 487.5,356.9 490.5,355.4 494.8,355.7 500.5,352.0 507.5,350.0 514.5,351.0 520.5,349.0 528.5,347.0 536.5,344.0 540.5,345.0 547.5,345.4 551.5,351.6 557.5,350.0 564.5,351.4 571.5,359.0 575.5,358.4 580.5,362.4 592.5,362.4 594.5,357.6 601.5,357.6 606.5,359.4 611.5,364.0" fill="none" stroke="#ff0000" stroke-width="1"/>
<polyline points="3.5,368.9 9.1,368.3 14.8,367.4 21.9,367.9 32.5,367.4 41.9,365.7 50.5,363.6 57.5,364.6 66.2,365.0 71.9,366.4 80.5,367.4 87.5,367.9 91.9,369.3 100.5,370.7 112.5,370.3 119.1,367.9 126.9,365.4 141.2,365.4 147.5,367.1 157.5,370.0 167.5,371.4 180.5,371.1 184.8,371.4 190.5,374.3 197.5,374.3 200.5,374.3 208.4,374.3 210.5,373.1 229.1,373.6 237.5,374.6 246.2,375.7 253.4,376.0 260.5,375.0 269.1,374.0 275.5,374.0 280.5,371.7 286.2,369.3 293.4,368.6 300.5,367.1 308.4,366.4 314.8,363.6 323.4,361.1 327.5,359.3 334.8,358.3 340.5,358.3 347.5,360.7 354.1,362.9 361.9,363.6 364.8,364.6 374.8,364.6 381.9,365.0 386.2,365.7 391.9,364.0 396.2,363.1 400.5,363.4 417.5,363.6 424.1,364.0 430.5,360.7 443.4,360.0 453.4,358.6 463.4,357.9 474.8,355.0 480.5,355.4 486.2,356.4 497.5,356.0 500.5,355.0 508.5,354.0 518.5,352.4 532.5,350.0 542.5,347.4 548.5,347.4 552.5,349.0 565.5,349.4 576.5,353.6 588.5,358.4 608.5,358.4 611.5,359.6" fill="none" stroke="#000090" stroke-width="1"/>
<polyline points="4.1,460.6 10.5,457.3 14.8,450.1 19.1,438.0 23.4,425.9 27.5,424.4 31.2,430.1 35.5,435.4 39.8,432.3 43.4,425.1 48.4,418.7 52.5,418.7 56.9,425.1 59.8,433.0 63.4,446.6 66.9,456.6 71.9,467.3 76.2,466.6 80.5,459.4 84.1,451.6 87.5,446.6 91.9,446.6 96.9,451.6 100.5,453.7 106.2,449.4 111.9,440.9 117.5,428.7 121.9,420.9 126.9,415.1 130.5,414.4 134.8,419.4 139.1,430.1 143.4,445.1 147.5,457.3 152.5,460.6 159.1,461.6 164.8,460.9 169.8,455.9 174.1,445.1 178.4,438.0 182.5,435.4 186.9,441.6 191.2,453.7 195.5,460.6 200.5,457.6 204.8,448.0 209.1,438.7 213.4,430.1 217.5,426.6 221.9,428.3 226.9,438.0 231.2,449.4 235.5,459.4 239.8,464.0 244.8,464.4 250.5,467.3 256.2,463.7 260.5,456.6 264.8,446.6 269.1,434.4 273.4,428.3 279.1,428.3 284.8,425.9 289.1,418.7 294.1,417.3 298.4,421.6 300.5,424.7 303.4,428.0 308.4,430.1 314.8,424.4 320.5,418.0 326.2,414.4 331.9,414.4 337.5,416.6 341.9,423.7 346.2,435.1 349.8,448.0 353.4,459.4 356.9,465.9 360.5,468.0 366.2,463.0 370.5,456.6 374.8,443.7 379.1,433.0 384.1,431.6 387.5,437.3 391.9,441.6 396.2,436.6 400.5,426.9 403.4,421.6 406.9,420.9 410.5,425.9 414.8,436.6 418.4,443.7 421.9,447.3 426.2,443.0 429.8,432.3 434.1,422.3 438.4,423.0 443.4,430.1 448.4,431.6 452.5,424.4 456.9,415.9 461.2,413.0 465.5,416.6 471.2,416.6 476.2,410.1 480.5,408.3 484.8,413.0 489.1,423.0 492.5,428.3 497.5,428.3 500.5,425.3 506.5,417.0 512.5,412.4 522.5,412.4 530.5,409.6 540.5,408.0 548.5,407.0 553.5,411.0 558.5,426.0 563.5,442.0 568.5,454.0 573.5,461.0 580.5,466.0 588.5,466.4 593.5,460.0 598.5,446.0 603.5,428.0 606.5,423.0 611.5,428.5" fill="none" stroke="#ff0000" stroke-width="1" stroke-dasharray="3 3"/>
<polyline points="3.4,460.6 6.9,455.9 11.9,453.7 15.5,436.6 19.8,419.7 23.4,420.6 27.5,432.3 31.9,443.4 35.5,430.1 39.8,425.1 43.4,418.0 47.5,415.4 51.2,417.3 54.1,425.1 59.1,445.1 63.4,462.3 67.5,468.0 71.9,470.1 75.5,463.7 79.8,450.9 84.1,444.4 87.9,441.6 91.9,454.4 95.5,454.4 99.1,455.1 100.5,453.0 104.8,445.1 109.1,436.6 113.4,426.6 118.4,418.0 123.4,413.4 127.5,412.3 131.2,418.0 135.5,430.9 139.8,450.9 144.1,460.6 149.8,460.6 155.5,462.3 159.4,463.3 163.4,459.4 168.4,453.0 171.2,443.7 175.5,434.4 179.8,431.6 183.4,445.1 187.5,459.4 191.9,462.3 196.2,459.4 200.5,449.8 206.2,436.6 211.9,425.1 216.2,425.1 219.8,427.3 223.4,437.3 227.5,448.0 231.9,465.1 235.5,462.3 240.5,465.4 244.1,464.0 248.4,468.4 252.5,466.3 255.5,458.0 259.8,454.4 263.4,434.4 267.5,428.7 271.9,421.6 275.8,436.3 279.8,427.7 283.4,423.0 287.9,411.1 291.9,418.7 296.2,425.9 300.5,433.3 304.1,427.3 308.4,429.4 311.9,422.3 316.2,419.4 319.8,413.4 324.1,413.0 327.5,411.1 331.2,415.4 336.2,416.6 339.8,425.9 344.1,439.4 347.5,455.1 351.9,470.1 355.5,468.7 359.8,467.7 364.1,462.3 368.4,453.0 371.9,439.4 375.8,421.6 379.8,431.6 384.1,439.4 387.9,447.7 391.9,440.1 396.2,425.1 400.5,416.6 404.1,417.3 407.5,425.1 411.9,441.6 416.2,449.4 420.5,447.3 424.1,444.4 427.5,419.4 431.9,415.9 435.5,423.7 439.8,434.4 443.4,435.4 447.5,427.3 451.9,416.6 455.5,410.6 459.8,413.0 464.1,421.6 468.4,420.1 471.9,410.9 476.2,404.0 479.8,409.4 484.1,420.9 488.4,430.9 491.9,433.4 496.2,427.3 500.5,418.8 504.5,414.0 508.5,410.4 512.5,411.6 516.5,411.6 520.5,413.0 526.5,409.6 532.5,409.0 539.5,408.0 543.5,406.4 548.5,407.0 552.5,415.0 556.5,434.0 560.5,450.0 564.5,456.0 568.5,458.0 572.5,464.0 576.5,464.4 580.5,468.4 584.5,466.4 587.5,467.4 592.5,460.0 596.5,436.0 600.1,422.0 604.1,416.4 608.5,428.0 612.1,442.6" fill="none" stroke="#20b2aa" stroke-width="1"/>
<rect x="3" y="517" width="1" height="5" fill="#0000ff"/>
<rect x="7" y="517" width="1" height="5" fill="#0000ff"/>
<rect x="11" y="517" width="1" height="5" fill="#0000ff"/>
<rect x="15" y="517" width="1" height="5" fill="#0000ff"/>
<rect x="19" y="517" width="1" height="5" fill="#0000ff"/>
<rect x="23" y="517" width="1" height="5" fill="#0000ff"/>
<rect x="27" y="517" width="1" height="5" fill="#0000ff"/>
<rect x="31" y="517" width="1" height="5" fill="#0000ff"/>
<rect x="35" y="517" width="1" height="4" fill="#0000ff"/>
<rect x="39" y="517" width="1" height="4" fill="#0000ff"/>
<rect x="43" y="517" width="1" height="3" fill="#0000ff"/>
<rect x="47" y="517" width="1" height="3" fill="#0000ff"/>
<rect x="51" y="517" width="1" height="2" fill="#0000ff"/>
<rect x="55" y="517" width="1" height="2" fill="#0000ff"/>
<rect x="59" y="517" width="1" height="2" fill="#0000ff"/>
<rect x="63" y="517" width="1" height="2" fill="#0000ff"/>
<rect x="67" y="517" width="1" height="2" fill="#0000ff"/>
<rect x="71" y="517" width="1" height="3" fill="#0000ff"/>
<rect x="75" y="517" width="1" height="3" fill="#0000ff"/>
<rect x="79" y="517" width="1" height="3" fill="#0000ff"/>
<rect x="83" y="517" width="1" height="3" fill="#0000ff"/>
<rect x="87" y="517" width="1" height="4" fill="#0000ff"/>
<rect x="91" y="517" width="1" height="5" fill="#0000ff"/>
<rect x="95" y="517" width="1" height="6" fill="#0000ff"/>
<rect x="99" y="517" width="1" height="7" fill="#0000ff"/>
<rect x="103" y="517" width="1" height="7" fill="#0000ff"/>
<rect x="107" y="517" width="1" height="7" fill="#0000ff"/>
<rect x="111" y="517" width="1" height="7" fill="#0000ff"/>
<rect x="115" y="517" width="1" height="6" fill="#0000ff"/>
<rect x="119" y="517" width="1" height="5" fill="#0000ff"/>
<rect x="123" y="517" width="1" height="4" fill="#0000ff"/>
<rect x="127" y="517" width="1" height="3" fill="#0000ff"/>
<rect x="131" y="517" width="1" height="2" fill="#0000ff"/>
<rect x="135" y="517" width="1" height="2" fill="#0000ff"/>
<rect x="139" y="517" width="1" height="2" fill="#0000ff"/>
<rect x="143" y="517" width="1" height="3" fill="#0000ff"/>
<rect x="147" y="517" width="1" height="4" fill="#0000ff"/>
<rect x="151" y="517" width="1" height="5" fill="#0000ff"/>
<rect x="155" y="517" width="1" height="5" fill="#0000ff"/>
<rect x="159" y="517" width="1" height="6" fill="#0000ff"/>
<rect x="163" y="517" width="1" height="7" fill="#0000ff"/>
<rect x="167" y="517" width="1" height="7" fill="#0000ff"/>
<rect x="171" y="517" width="1" height="7" fill="#0000ff"/>
<rect x="175" y="517" width="1" height="8" fill="#0000ff"/>
<rect x="179" y="517" width="1" height="8" fill="#0000ff"/>
<rect x="183" y="517" width="1" height="9" fill="#0000ff"/>
<rect x="187" y="517" width="1" height="10" fill="#0000ff"/>
<rect x="191" y="517" width="1" height="11" fill="#0000ff"/>
<rect x="195" y="517" width="1" height="12" fill="#0000ff"/>
<rect x="199" y="517" width="1" height="12" fill="#0000ff"/>
<rect x="203" y="517" width="1" height="12" fill="#0000ff"/>
<rect x="207" y="517" width="1" height="12" fill="#0000ff"/>
<rect x="211" y="517" width="1" height="12" fill="#0000ff"/>
<rect x="215" y="517" width="1" height="12" fill="#0000ff"/>
<rect x="219" y="517" width="1" height="13" fill="#0000ff"/>
<rect x="223" y="517" width="1" height="11" fill="#0000ff"/>
<rect x="227" y="517" width="1" height="12" fill="#0000ff"/>
<rect x="231" y="517" width="1" height="12" fill="#0000ff"/>
<rect x="235" y="517" width="1" height="13" fill="#0000ff"/>
<rect x="239" y="517" width="1" height="14" fill="#0000ff"/>
<rect x="243" y="517" width="1" height="15" fill="#0000ff"/>
<rect x="247" y="517" width="1" height="16" fill="#0000ff"/>
<rect x="251" y="517" width="1" height="17" fill="#0000ff"/>
<rect x="255" y="517" width="1" height="16" fill="#0000ff"/>
<rect x="259" y="517" width="1" height="16" fill="#0000ff"/>
<rect x="263" y="517" width="1" height="16" fill="#0000ff"/>
<rect x="267" y="517" width="1" height="15" fill="#0000ff"/>
<rect x="271" y="517" width="1" height="14" fill="#0000ff"/>
<rect x="275" y="517" width="1" height="14" fill="#0000ff"/>
<rect x="279" y="517" width="1" height="12" fill="#0000ff"/>
<rect x="283" y="517" width="1" height="10" fill="#0000ff"/>
<rect x="287" y="517" width="1" height="8" fill="#0000ff"/>
<rect x="291" y="517" width="1" height="8" fill="#0000ff"/>
<rect x="295" y="517" width="1" height="7" fill="#0000ff"/>
<rect x="299" y="517" width="1" height="6" fill="#0000ff"/>
<rect x="303" y="517" width="1" height="5" fill="#0000ff"/>
<rect x="307" y="517" width="1" height="3" fill="#0000ff"/>
<rect x="311" y="517" width="1" height="2" fill="#0000ff"/>
<rect x="315" y="517" width="1" height="2" fill="#0000ff"/>
<rect x="319" y="515" width="1" height="3" fill="#0000ff"/>
<rect x="323" y="513" width="1" height="5" fill="#0000ff"/>
<rect x="327" y="511" width="1" height="7" fill="#0000ff"/>
<rect x="331" y="510" width="1" height="8" fill="#0000ff"/>
<rect x="335" y="509" width="1" height="9" fill="#0000ff"/>
<rect x="339" y="508" width="1" height="10" fill="#0000ff"/>
<rect x="343" y="509" width="1" height="9" fill="#0000ff"/>
<rect x="347" y="511" width="1" height="7" fill="#0000ff"/>
<rect x="351" y="513" width="1" height="5" fill="#0000ff"/>
<rect x="355" y="514" width="1" height="4" fill="#0000ff"/>
<rect x="359" y="515" width="1" height="3" fill="#0000ff"/>
<rect x="363" y="516" width="1" height="2" fill="#0000ff"/>
<rect x="367" y="517" width="1" height="1" fill="#0000ff"/>
<rect x="371" y="517" width="1" height="1" fill="#0000ff"/>
<rect x="375" y="517" width="1" height="1" fill="#0000ff"/>
<rect x="379" y="517" width="1" height="1" fill="#0000ff"/>
<rect x="383" y="517" width="1" height="1" fill="#0000ff"/>
<rect x="387" y="516" width="1" height="2" fill="#0000ff"/>
<rect x="391" y="516" width="1" height="2" fill="#0000ff"/>
<rect x="395" y="516" width="1" height="2" fill="#0000ff"/>
<rect x="399" y="516" width="1" height="2" fill="#0000ff"/>
<rect x="403" y="516" width="1" height="2" fill="#0000ff"/>
<rect x="407" y="516" width="1" height="2" fill="#0000ff"/>
<rect x="411" y="515" width="1" height="3" fill="#0000ff"/>
<rect x="415" y="515" width="1" height="3" fill="#0000ff"/>
<rect x="419" y="515" width="1" height="3" fill="#0000ff"/>
<rect x="423" y="515" width="1" height="3" fill="#0000ff"/>
<rect x="427" y="514" width="1" height="4" fill="#0000ff"/>
<rect x="431" y="512" width="1" height="6" fill="#0000ff"/>
<rect x="435" y="512" width="1" height="6" fill="#0000ff"/>
<rect x="439" y="512" width="1" height="6" fill="#0000ff"/>
<rect x="443" y="511" width="1" height="7" fill="#0000ff"/>
<rect x="447" y="510" width="1" height="8" fill="#0000ff"/>
<rect x="451" y="509" width="1" height="9" fill="#0000ff"/>
<rect x="455" y="508" width="1" height="10" fill="#0000ff"/>
<rect x="459" y="508" width="1" height="10" fill="#0000ff"/>
<rect x="463" y="508" width="1" height="10" fill="#0000ff"/>
<rect x="467" y="506" width="1" height="12" fill="#0000ff"/>
<rect x="471" y="504" width="1" height="14" fill="#0000ff"/>
<rect x="475" y="502" width="1" height="16" fill="#0000ff"/>
<rect x="479" y="501" width="1" height="17" fill="#0000ff"/>
<rect x="483" y="502" width="1" height="16" fill="#0000ff"/>
<rect x="487" y="502" width="1" height="16" fill="#0000ff"/>
<rect x="491" y="501" width="1" height="17" fill="#0000ff"/>
<rect x="495" y="501" width="1" height="17" fill="#0000ff"/>
<rect x="499" y="499" width="1" height="19" fill="#0000ff"/>
<rect x="503" y="498" width="1" height="20" fill="#0000ff"/>
<rect x="507" y="496" width="1" height="22" fill="#0000ff"/>
<rect x="511" y="495" width="1" height="23" fill="#0000ff"/>
<rect x="515" y="495" width="1" height="23" fill="#0000ff"/>
<rect x="519" y="494" width="1" height="24" fill="#0000ff"/>
<rect x="523" y="492" width="1" height="26" fill="#0000ff"/>
<rect x="527" y="491" width="1" height="27" fill="#0000ff"/>
<rect x="531" y="490" width="1" height="28" fill="#0000ff"/>
<rect x="535" y="487" width="1" height="31" fill="#0000ff"/>
<rect x="539" y="486" width="1" height="32" fill="#0000ff"/>
<rect x="543" y="485" width="1" height="33" fill="#0000ff"/>
<rect x="547" y="484" width="1" height="34" fill="#0000ff"/>
<rect x="551" y="485" width="1" height="33" fill="#0000ff"/>
<rect x="555" y="486" width="1" height="32" fill="#0000ff"/>
<rect x="559" y="487" width="1" height="31" fill="#0000ff"/>
<rect x="563" y="488" width="1" height="30" fill="#0000ff"/>
<rect x="567" y="490" width="1" height="28" fill="#0000ff"/>
<rect x="571" y="493" width="1" height="25" fill="#0000ff"/>
<rect x="575" y="495" width="1" height="23" fill="#0000ff"/>
<rect x="579" y="498" width="1" height="20" fill="#0000ff"/>
<rect x="583" y="501" width="1" height="17" fill="#0000ff"/>
<rect x="587" y="503" width="1" height="15" fill="#0000ff"/>
<rect x="591" y="504" width="1" height="14" fill="#0000ff"/>
<rect x="595" y="504" width="1" height="14" fill="#0000ff"/>
<rect x="599" y="505" width="1" height="13" fill="#0000ff"/>
<rect x="603" y="505" width="1" height="13" fill="#0000ff"/>
<rect x="607" y="506" width="1" height="12" fill="#0000ff"/>
<rect x="611" y="508" width="1" height="10" fill="#0000ff"/>
<polyline points="3.5,521.5 40.5,521.5 50.5,519.5 80.5,518.5 90.5,519.0 100.5,521.0 110.5,522.4 120.5,523.0 130.5,522.6 140.5,521.0 145.5,520.0 150.5,519.6 160.5,520.4 170.5,522.4 180.5,523.4 190.5,525.0 200.5,526.4 210.5,527.6 220.5,528.4 230.5,528.0 240.5,528.6 250.5,530.0 260.5,531.0 270.5,532.0 280.5,531.6 290.5,530.0 300.5,527.0 310.5,524.0 320.5,520.0 330.5,517.0 340.5,513.0 350.5,510.6 360.5,510.8 370.5,513.0 380.5,514.4 390.5,516.0 400.5,516.6 410.5,516.4 420.5,516.0 430.5,515.0 440.5,514.0 450.5,512.4 460.5,511.0 470.5,509.0 480.5,506.0 490.5,504.0 500.5,501.4 510.5,499.0 520.5,497.0 530.5,494.4 540.5,491.0 550.5,487.6 560.5,486.0 570.5,485.4 575.5,487.0 580.5,489.0 590.5,493.0 600.5,498.0 605.5,500.4 611.5,502.4" fill="none" stroke="#ff0000" stroke-width="1" stroke-dasharray="3 3"/>
<rect x="2.5" y="2.5" width="634" height="328" fill="none" stroke="#000" stroke-width="1"/>
<rect x="2.5" y="332.5" width="634" height="64" fill="none" stroke="#000" stroke-width="1"/>
<rect x="2.5" y="398.5" width="634" height="79" fill="none" stroke="#000" stroke-width="1"/>
<rect x="2.5" y="479.5" width="634" height="57" fill="none" stroke="#000" stroke-width="1"/>
<rect x="637" y="17" width="2" height="1" fill="#000"/>
<rect x="637" y="66" width="2" height="1" fill="#000"/>
<rect x="637" y="115" width="2" height="1" fill="#000"/>
<rect x="637" y="164" width="2" height="1" fill="#000"/>
<rect x="637" y="213" width="2" height="1" fill="#000"/>
<rect x="637" y="262" width="2" height="1" fill="#000"/>
<rect x="637" y="311" width="2" height="1" fill="#000"/>
<rect x="637" y="517" width="2" height="1" fill="#000"/>
<rect x="637" y="334" width="1" height="1" fill="#000"/>
<rect x="637" y="395" width="1" height="1" fill="#000"/>
<rect x="637" y="400" width="1" height="1" fill="#000"/>
<rect x="637" y="476" width="1" height="1" fill="#000"/>
<rect x="637" y="481" width="1" height="1" fill="#000"/>
<rect x="637" y="535" width="1" height="1" fill="#000"/>
<rect x="3" y="537" width="1" height="3" fill="#000"/>
<rect x="99" y="537" width="1" height="3" fill="#000"/>
<rect x="195" y="537" width="1" height="3" fill="#000"/>
<rect x="291" y="537" width="1" height="3" fill="#000"/>
<rect x="387" y="537" width="1" height="3" fill="#000"/>
<rect x="483" y="537" width="1" height="3" fill="#000"/>
<rect x="579" y="537" width="1" height="3" fill="#000"/>
<polygon points="6,10 15,10 10.5,14.5" fill="#000"/>
<rect x="10" y="14" width="1" height="1" fill="#000"/>
</g>
<text x="643.0" y="22.0" textLength="46.0" lengthAdjust="spacing">108.175</text>
<text x="643.0" y="120.0" textLength="46.0" lengthAdjust="spacing">107.335</text>
<text x="643.0" y="169.0" textLength="46.0" lengthAdjust="spacing">106.915</text>
<text x="643.0" y="218.0" textLength="46.0" lengthAdjust="spacing">106.495</text>
<text x="643.0" y="267.0" textLength="46.0" lengthAdjust="spacing">106.075</text>
<text x="643.0" y="316.0" textLength="46.0" lengthAdjust="spacing">105.655</text>
<g shape-rendering="crispEdges">
<rect x="638" y="99" width="56" height="14" fill="#000"/>
</g>
<text x="642.8" y="111.0" textLength="46.0" lengthAdjust="spacing" class="w">107.416</text>
<g shape-rendering="crispEdges">
<rect x="638" y="22" width="56" height="14" fill="#ff0000"/>
<rect x="638" y="60" width="56" height="14" fill="#ff0000"/>
<rect x="638" y="87" width="56" height="14" fill="#ff0000"/>
<rect x="638" y="139" width="56" height="14" fill="#008000"/>
<rect x="638" y="164" width="56" height="14" fill="#008000"/>
</g>
<text x="642.8" y="34.0" textLength="46.0" lengthAdjust="spacing" class="w">108.080</text>
<text x="642.8" y="72.0" textLength="46.0" lengthAdjust="spacing" class="w">107.752</text>
<text x="642.8" y="99.0" textLength="46.0" lengthAdjust="spacing" class="w">107.526</text>
<text x="642.8" y="151.0" textLength="46.0" lengthAdjust="spacing" class="w">107.079</text>
<text x="642.8" y="176.0" textLength="46.0" lengthAdjust="spacing" class="w">106.867</text>
<text x="21.0" y="17.0" textLength="61.0" lengthAdjust="spacing">USDJPY,H1</text>
<text x="91.0" y="17.0" textLength="46.5" lengthAdjust="spacing">107.499</text>
<text x="140.5" y="17.0" textLength="46.5" lengthAdjust="spacing">107.515</text>
<text x="190.5" y="17.0" textLength="46.5" lengthAdjust="spacing">107.416</text>
<text x="241.0" y="17.0" textLength="46.5" lengthAdjust="spacing">107.416</text>
<text x="6.5" y="348.0" textLength="42.5" lengthAdjust="spacing">RSI(14)</text>
<text x="52.3" y="348.0" textLength="46.5" lengthAdjust="spacing">50.8815</text>
<text x="106.5" y="348.0" textLength="48.0" lengthAdjust="spacing">-&gt;MA(9)</text>
<text x="157.5" y="348.0" textLength="46.5" lengthAdjust="spacing">58.0075</text>
<text x="6.5" y="414.0" textLength="71.0" lengthAdjust="spacing">Stoch(5,3,3)</text>
<text x="81.2" y="414.0" textLength="46.5" lengthAdjust="spacing">43.6031</text>
<text x="131.5" y="414.0" textLength="46.5" lengthAdjust="spacing">62.2940</text>
<text x="6.5" y="495.0" textLength="86.0" lengthAdjust="spacing">MACD(12,26,9)</text>
<text x="96.0" y="495.0" textLength="39.0" lengthAdjust="spacing">0.0794</text>
<text x="139.5" y="495.0" textLength="39.0" lengthAdjust="spacing">0.1136</text>
<text x="640.0" y="346.0" textLength="21.0" lengthAdjust="spacing">100</text>
<text x="638.8" y="357.0" textLength="13.5" lengthAdjust="spacing">70</text>
<text x="638.8" y="369.0" textLength="13.5" lengthAdjust="spacing">50</text>
<text x="638.8" y="382.0" textLength="13.5" lengthAdjust="spacing">30</text>
<text x="640.3" y="393.5">0</text>
<text x="640.0" y="412.5" textLength="21.0" lengthAdjust="spacing">100</text>
<text x="638.8" y="420.0" textLength="13.5" lengthAdjust="spacing">80</text>
<text x="638.8" y="444.0" textLength="13.5" lengthAdjust="spacing">50</text>
<text x="638.8" y="466.0" textLength="13.5" lengthAdjust="spacing">20</text>
<text x="640.3" y="474.5">0</text>
<text x="640.0" y="493.5" textLength="39.5" lengthAdjust="spacing">0.2976</text>
<text x="640.0" y="522.0" textLength="24.5" lengthAdjust="spacing">0.00</text>
<text x="639.5" y="533.0" textLength="44.0" lengthAdjust="spacing">-0.1548</text>
<text x="2.0" y="552.0" textLength="63.5" lengthAdjust="spacing">4 May 2020</text>
<text x="98.0" y="552.0" textLength="67.5" lengthAdjust="spacing">5 May 05:00</text>
<text x="194.3" y="552.0" textLength="67.5" lengthAdjust="spacing">6 May 05:00</text>
<text x="290.3" y="552.0" textLength="67.5" lengthAdjust="spacing">7 May 05:00</text>
<text x="386.3" y="552.0" textLength="67.5" lengthAdjust="spacing">8 May 05:00</text>
<text x="481.7" y="552.0" textLength="75.0" lengthAdjust="spacing">11 May 05:00</text>
<text x="578.0" y="552.0" textLength="75.0" lengthAdjust="spacing">12 May 05:00</text>
</svg></body></html>
